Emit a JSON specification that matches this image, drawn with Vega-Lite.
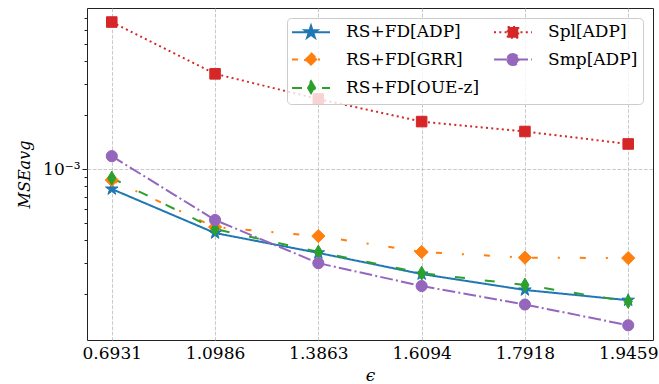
{
  "$schema": "https://vega.github.io/schema/vega-lite/v6.json",
  "width": 566,
  "height": 332,
  "autosize": {"type": "none"},
  "padding": {"left": 87, "top": 8, "right": 6, "bottom": 44},
  "background": "white",
  "config": {
    "view": {"stroke": "#222222", "strokeWidth": 1},
    "font": "DejaVu Serif"
  },
  "data": {
    "values": [
      {"series": "RS+FD[ADP]", "eps": "0.6931", "mse": 0.000773},
      {"series": "RS+FD[ADP]", "eps": "1.0986", "mse": 0.000439},
      {"series": "RS+FD[ADP]", "eps": "1.3863", "mse": 0.000340},
      {"series": "RS+FD[ADP]", "eps": "1.6094", "mse": 0.000259},
      {"series": "RS+FD[ADP]", "eps": "1.7918", "mse": 0.000211},
      {"series": "RS+FD[ADP]", "eps": "1.9459", "mse": 0.000185},
      {"series": "RS+FD[GRR]", "eps": "0.6931", "mse": 0.000868},
      {"series": "RS+FD[GRR]", "eps": "1.0986", "mse": 0.000474},
      {"series": "RS+FD[GRR]", "eps": "1.3863", "mse": 0.000422},
      {"series": "RS+FD[GRR]", "eps": "1.6094", "mse": 0.000344},
      {"series": "RS+FD[GRR]", "eps": "1.7918", "mse": 0.000320},
      {"series": "RS+FD[GRR]", "eps": "1.9459", "mse": 0.000318},
      {"series": "RS+FD[OUE-z]", "eps": "0.6931", "mse": 0.000891},
      {"series": "RS+FD[OUE-z]", "eps": "1.0986", "mse": 0.000462},
      {"series": "RS+FD[OUE-z]", "eps": "1.3863", "mse": 0.000344},
      {"series": "RS+FD[OUE-z]", "eps": "1.6094", "mse": 0.000262},
      {"series": "RS+FD[OUE-z]", "eps": "1.7918", "mse": 0.000225},
      {"series": "RS+FD[OUE-z]", "eps": "1.9459", "mse": 0.000182},
      {"series": "Spl[ADP]", "eps": "0.6931", "mse": 0.00662},
      {"series": "Spl[ADP]", "eps": "1.0986", "mse": 0.00340},
      {"series": "Spl[ADP]", "eps": "1.3863", "mse": 0.00246},
      {"series": "Spl[ADP]", "eps": "1.6094", "mse": 0.00184},
      {"series": "Spl[ADP]", "eps": "1.7918", "mse": 0.00162},
      {"series": "Spl[ADP]", "eps": "1.9459", "mse": 0.00138},
      {"series": "Smp[ADP]", "eps": "0.6931", "mse": 0.00118},
      {"series": "Smp[ADP]", "eps": "1.0986", "mse": 0.000519},
      {"series": "Smp[ADP]", "eps": "1.3863", "mse": 0.000298},
      {"series": "Smp[ADP]", "eps": "1.6094", "mse": 0.000222},
      {"series": "Smp[ADP]", "eps": "1.7918", "mse": 0.000175},
      {"series": "Smp[ADP]", "eps": "1.9459", "mse": 0.000134}
    ]
  },
  "encoding": {
    "x": {
      "field": "eps",
      "type": "ordinal",
      "sort": null,
      "scale": {"type": "point", "padding": 0.24},
      "axis": {
        "title": "ϵ",
        "titleFont": "DejaVu Serif",
        "titleFontSize": 17,
        "titleFontStyle": "italic",
        "titleFontWeight": "normal",
        "titleColor": "black",
        "titlePadding": 6,
        "labelAngle": 0,
        "labelFont": "DejaVu Serif",
        "labelFontSize": 17,
        "labelColor": "black",
        "labelPadding": 5,
        "ticks": false,
        "domain": false,
        "grid": true,
        "gridColor": "#bbbbbb",
        "gridDash": [3.7, 1.6],
        "gridWidth": 0.8
      }
    },
    "y": {
      "field": "mse",
      "type": "quantitative",
      "scale": {"type": "log", "domain": [0.0001109, 0.00793], "nice": false},
      "axis": {
        "title": "MSEavg",
        "titleFont": "DejaVu Serif",
        "titleFontSize": 16,
        "titleFontStyle": "italic",
        "titleFontWeight": "normal",
        "titleColor": "black",
        "titlePadding": 10,
        "values": [0.0002, 0.0003, 0.0004, 0.0005, 0.0006, 0.0007, 0.0008, 0.0009, 0.001, 0.002, 0.003, 0.004, 0.005, 0.006, 0.007],
        "labelExpr": "abs(datum.value - 0.001) < 1e-9 ? '10⁻³' : ''",
        "labelFont": "DejaVu Serif",
        "labelFontSize": 17,
        "labelColor": "black",
        "labelPadding": 2,
        "domain": false,
        "tickColor": "#222222",
        "tickSize": {"condition": {"test": "abs(datum.value - 0.001) < 1e-9", "value": 5}, "value": 3},
        "grid": true,
        "gridColor": "#bbbbbb",
        "gridDash": [3.7, 1.6],
        "gridWidth": 0.8,
        "gridOpacity": {"condition": {"test": "abs(datum.value - 0.001) < 1e-9", "value": 1}, "value": 0}
      }
    }
  },
  "layer": [
    {
      "mark": {"type": "line", "strokeWidth": 2},
      "encoding": {
        "color": {
          "field": "series",
          "type": "nominal",
          "scale": {
            "domain": ["RS+FD[ADP]", "RS+FD[GRR]", "RS+FD[OUE-z]", "Spl[ADP]", "Smp[ADP]"],
            "range": ["#1f77b4", "#ff7f0e", "#2ca02c", "#d62728", "#9467bd"]
          },
          "legend": null
        },
        "strokeDash": {
          "field": "series",
          "type": "nominal",
          "scale": {
            "domain": ["RS+FD[ADP]", "RS+FD[GRR]", "RS+FD[OUE-z]", "Spl[ADP]", "Smp[ADP]"],
            "range": [[1, 0], [6, 20, 2, 20], [10, 20], [2, 3.3], [12.8, 3.2, 2, 3.2]]
          },
          "legend": null
        }
      }
    },
    {
      "mark": {"type": "point", "filled": true, "opacity": 1, "size": 144, "strokeWidth": 1},
      "encoding": {
        "color": {
          "field": "series",
          "type": "nominal",
          "scale": {
            "domain": ["RS+FD[ADP]", "RS+FD[GRR]", "RS+FD[OUE-z]", "Spl[ADP]", "Smp[ADP]"],
            "range": ["#1f77b4", "#ff7f0e", "#2ca02c", "#d62728", "#9467bd"]
          },
          "legend": null
        },
        "stroke": {
          "field": "series",
          "type": "nominal",
          "scale": {
            "domain": ["RS+FD[ADP]", "RS+FD[GRR]", "RS+FD[OUE-z]", "Spl[ADP]", "Smp[ADP]"],
            "range": ["#1f77b4", "#ff7f0e", "#2ca02c", "#d62728", "#9467bd"]
          },
          "legend": null
        },
        "shape": {
          "field": "series",
          "type": "nominal",
          "scale": {
            "domain": ["RS+FD[ADP]", "RS+FD[GRR]", "RS+FD[OUE-z]", "Spl[ADP]", "Smp[ADP]"],
            "range": [
              "M0,-1.1L0.247,-0.34L1.046,-0.34L0.399,0.13L0.647,0.89L0,0.42L-0.647,0.89L-0.399,0.13L-1.046,-0.34L-0.247,-0.34Z",
              "M0,-1.1L1.1,0L0,1.1L-1.1,0Z",
              "M0,-1.15L0.68,0L0,1.15L-0.68,0Z",
              "M-0.88,-0.88L0.88,-0.88L0.88,0.88L-0.88,0.88Z",
              "M-0.93,0A0.93,0.93,0,1,0,0.93,0A0.93,0.93,0,1,0,-0.93,0Z"
            ]
          },
          "legend": null
        }
      }
    },
    {
      "transform": [{"filter": "false"}],
      "mark": {"type": "point", "filled": true, "opacity": 1, "size": 256, "strokeWidth": 2},
      "encoding": {
        "color": {
          "field": "series",
          "type": "nominal",
          "scale": {
            "domain": ["RS+FD[ADP]", "RS+FD[GRR]", "RS+FD[OUE-z]", "Spl[ADP]", "Smp[ADP]"],
            "range": ["#1f77b4", "#ff7f0e", "#2ca02c", "#d62728", "#9467bd"]
          },
          "legend": {"title": null}
        },
        "stroke": {
          "field": "series",
          "type": "nominal",
          "scale": {
            "domain": ["RS+FD[ADP]", "RS+FD[GRR]", "RS+FD[OUE-z]", "Spl[ADP]", "Smp[ADP]"],
            "range": ["#1f77b4", "#ff7f0e", "#2ca02c", "#d62728", "#9467bd"]
          },
          "legend": {"title": null}
        },
        "strokeDash": {
          "field": "series",
          "type": "nominal",
          "scale": {
            "domain": ["RS+FD[ADP]", "RS+FD[GRR]", "RS+FD[OUE-z]", "Spl[ADP]", "Smp[ADP]"],
            "range": [[1, 0], [6, 20, 2, 20], [10, 20], [2, 3.3], [12.8, 3.2, 2, 3.2]]
          },
          "legend": {"title": null}
        },
        "shape": {
          "field": "series",
          "type": "nominal",
          "scale": {
            "domain": ["RS+FD[ADP]", "RS+FD[GRR]", "RS+FD[OUE-z]", "Spl[ADP]", "Smp[ADP]"],
            "range": [
              "M-2.375,0L2.375,0M0,-0.825L0.185,-0.255L0.785,-0.255L0.299,0.098L0.485,0.668L0,0.315L-0.485,0.668L-0.299,0.098L-0.785,-0.255L-0.185,-0.255Z",
              "M-2.375,0L2.375,0M0,-0.825L0.825,0L0,0.825L-0.825,0Z",
              "M-2.375,0L2.375,0M0,-0.863L0.51,0L0,0.863L-0.51,0Z",
              "M-2.375,0L2.375,0M-0.66,-0.66L0.66,-0.66L0.66,0.66L-0.66,0.66Z",
              "M-2.375,0L2.375,0M-0.7,0A0.7,0.7,0,1,0,0.7,0A0.7,0.7,0,1,0,-0.7,0Z"
            ]
          },
          "legend": {
            "title": null,
            "orient": "top-right",
            "offset": 10,
            "columns": 2,
            "symbolSize": 256,
            "symbolStrokeWidth": 2,
            "symbolOffset": 10,
            "labelFont": "DejaVu Serif",
            "labelFontSize": 17,
            "labelColor": "black",
            "labelLimit": 300,
            "labelOffset": 26,
            "rowPadding": 6.5,
            "columnPadding": 10,
            "padding": 5,
            "fillColor": "rgba(255,255,255,0.8)",
            "strokeColor": "#cccccc",
            "cornerRadius": 4
          }
        }
      }
    }
  ],
  "resolve": {"scale": {"color": "independent", "stroke": "independent", "shape": "independent", "strokeDash": "independent"}}
}
